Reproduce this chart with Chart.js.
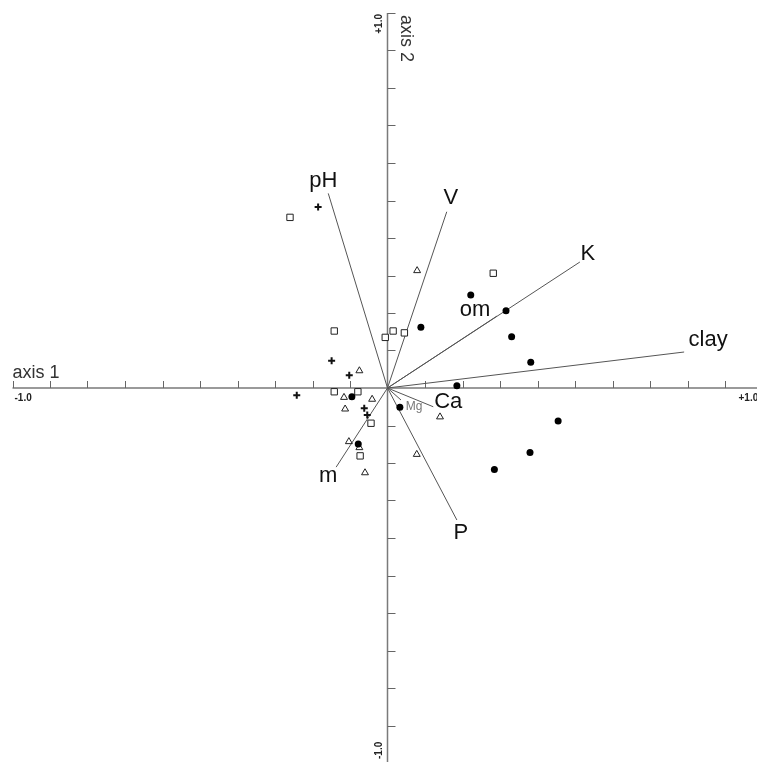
<!DOCTYPE html>
<html>
<head>
<meta charset="utf-8">
<title>Ordination biplot</title>
<script src="https://cdn.jsdelivr.net/npm/chart.js@4/dist/chart.umd.min.js"></script>
<style>
  html, body { margin: 0; padding: 0; background: #fff; overflow: hidden; }
  canvas { display: block; }
</style>
</head>
<body>
<canvas id="biplot" width="775" height="775"></canvas>
<script>
// Sample scores on axis 1 / axis 2, grouped by site type
const filledCircles = [
  [0.222, 0.248], [0.316, 0.206], [0.089, 0.162], [0.331, 0.137],
  [0.382, 0.069], [0.185, 0.006], [0.033, -0.051], [0.455, -0.088],
  [0.380, -0.172], [0.285, -0.217], [-0.095, -0.023], [-0.078, -0.149]
];
const openSquares = [
  [-0.260, 0.455], [0.282, 0.306], [-0.142, 0.152], [0.015, 0.152],
  [-0.006, 0.135], [0.045, 0.147], [-0.142, -0.010], [-0.079, -0.010],
  [-0.044, -0.094], [-0.073, -0.181]
];
const openTriangles = [
  [0.079, 0.313], [0.140, -0.077], [0.078, -0.177], [-0.075, 0.046],
  [-0.116, -0.025], [-0.041, -0.030], [-0.113, -0.056], [-0.103, -0.143],
  [-0.075, -0.159], [-0.060, -0.226]
];
const crosses = [
  [-0.185, 0.483], [-0.149, 0.073], [-0.102, 0.034], [-0.242, -0.019],
  [-0.062, -0.054], [-0.054, -0.072]
];

// Environmental variable vectors (end points)
const variableNames = ["pH", "V", "K", "clay", "om", "Ca", "Mg", "P", "m"];
const variableX = [-0.158, 0.158, 0.513, 0.791, 0.292, 0.122, 0.036, 0.185, -0.137];
const variableY = [0.519, 0.470, 0.336, 0.096, 0.192, -0.050, -0.032, -0.352, -0.211];

// Axis range and tick step
const axisMin = -1.0;
const axisMax = 1.0;
const tickStep = 0.1;
const endLabels = ["-1.0", "+1.0"];
const axisTitles = ["axis 1", "axis 2"];

// Label placement relative to each vector tip (pixels)
const labelOffset = {
  pH: [-5, -12], V: [4, -14], K: [8, -8], clay: [24, -12], om: [-22, -6],
  Ca: [15, -5], Mg: [13, 7], P: [4, 13], m: [-8, 9]
};

const toPts = arr => arr.map(p => ({ x: p[0], y: p[1] }));

const vectorSets = variableNames.map((name, i) => ({
  label: name,
  data: [{ x: 0, y: 0 }, { x: variableX[i], y: variableY[i] }],
  showLine: true,
  borderColor: '#555',
  borderWidth: 1,
  pointRadius: 0,
  order: 5
}));

const axesPlugin = {
  id: 'crossAxes',
  beforeDatasetsDraw(chart) {
    const { ctx, scales: { x, y } } = chart;
    const x0 = x.getPixelForValue(0), y0 = y.getPixelForValue(0);
    const xl = x.getPixelForValue(axisMin), xr = x.getPixelForValue(axisMax);
    const yt = y.getPixelForValue(axisMax), yb = y.getPixelForValue(axisMin);
    ctx.save();
    ctx.strokeStyle = '#7a7a7a';
    ctx.lineWidth = 1.5;
    ctx.beginPath();
    ctx.moveTo(xl, y0); ctx.lineTo(xr, y0);
    ctx.moveTo(x0, yt); ctx.lineTo(x0, yb);
    ctx.stroke();
    ctx.lineWidth = 1;
    ctx.strokeStyle = '#666';
    ctx.beginPath();
    const n = Math.round((axisMax - axisMin) / tickStep);
    for (let i = 0; i <= n; i++) {
      const v = axisMin + i * tickStep;
      if (Math.abs(v) < 1e-9) continue;
      const px = Math.round(x.getPixelForValue(v)) + 0.5;
      ctx.moveTo(px, y0); ctx.lineTo(px, y0 - 7);
      const py = Math.round(y.getPixelForValue(v)) + 0.5;
      ctx.moveTo(x0, py); ctx.lineTo(x0 + 8, py);
    }
    ctx.stroke();

    // axis titles
    ctx.fillStyle = '#333';
    ctx.font = '18px "Liberation Sans", Arial, sans-serif';
    ctx.textBaseline = 'alphabetic';
    ctx.textAlign = 'left';
    ctx.fillText(axisTitles[0], xl, y0 - 10);
    ctx.save();
    ctx.translate(x0 + 19, yt + 2);
    ctx.rotate(Math.PI / 2);
    ctx.textBaseline = 'top';
    ctx.fillText(axisTitles[1], 0, -8);
    ctx.restore();

    // end labels
    ctx.font = 'bold 10px "Liberation Sans", Arial, sans-serif';
    ctx.fillStyle = '#222';
    ctx.textBaseline = 'top';
    ctx.textAlign = 'left';
    ctx.fillText(endLabels[0], xl + 2, y0 + 5);
    ctx.fillText(endLabels[1], xr - 24, y0 + 5);
    ctx.save();
    ctx.translate(x0 - 3, yt);
    ctx.rotate(-Math.PI / 2);
    ctx.textAlign = 'right';
    ctx.textBaseline = 'bottom';
    ctx.fillText(endLabels[1], -1, 0);
    ctx.restore();
    ctx.save();
    ctx.translate(x0 - 3, yb - 4);
    ctx.rotate(-Math.PI / 2);
    ctx.textAlign = 'left';
    ctx.textBaseline = 'bottom';
    ctx.fillText(endLabels[0], 0, 0);
    ctx.restore();
    ctx.restore();
  },
  afterDatasetsDraw(chart) {
    const { ctx, scales: { x, y } } = chart;
    ctx.save();
    ctx.textAlign = 'center';
    ctx.textBaseline = 'middle';
    variableNames.forEach((name, i) => {
      const px = x.getPixelForValue(variableX[i]);
      const py = y.getPixelForValue(variableY[i]);
      const off = labelOffset[name];
      if (name === 'Mg') {
        ctx.font = '12px "Liberation Sans", Arial, sans-serif';
        ctx.fillStyle = '#777';
      } else {
        ctx.font = '22px "Liberation Sans", Arial, sans-serif';
        ctx.fillStyle = '#111';
      }
      ctx.fillText(name, px + off[0], py + off[1]);
    });
    ctx.restore();
  }
};

new Chart(document.getElementById('biplot'), {
  type: 'scatter',
  data: {
    datasets: [
      ...vectorSets,
      {
        label: 'circles',
        data: toPts(filledCircles),
        pointStyle: 'circle',
        pointRadius: 3.5,
        backgroundColor: '#000',
        borderColor: '#000',
        borderWidth: 0,
        order: 1
      },
      {
        label: 'squares',
        data: toPts(openSquares),
        pointStyle: 'rect',
        pointRadius: 4.5,
        backgroundColor: '#fff',
        borderColor: '#222',
        borderWidth: 1,
        order: 2
      },
      {
        label: 'triangles',
        data: toPts(openTriangles),
        pointStyle: 'triangle',
        pointRadius: 4,
        backgroundColor: 'rgba(255,255,255,0)',
        borderColor: '#222',
        borderWidth: 1,
        order: 3
      },
      {
        label: 'crosses',
        data: toPts(crosses),
        pointStyle: 'cross',
        pointRadius: 3.5,
        borderColor: '#111',
        borderWidth: 2,
        order: 4
      }
    ]
  },
  options: {
    responsive: false,
    animation: false,
    layout: { padding: { left: 12.5, right: 12.5, top: 13, bottom: 12 } },
    plugins: { legend: { display: false }, tooltip: { enabled: false } },
    scales: {
      x: { type: 'linear', min: axisMin, max: axisMax, display: false },
      y: { type: 'linear', min: axisMin, max: axisMax, display: false }
    }
  },
  plugins: [axesPlugin]
});
</script>
</body>
</html>
